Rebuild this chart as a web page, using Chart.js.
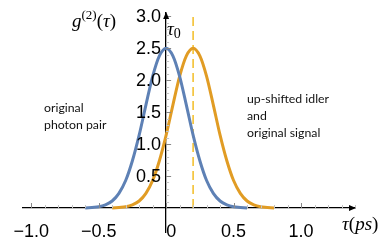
<!DOCTYPE html>
<html>
<head>
<meta charset="utf-8">
<script src="https://cdn.jsdelivr.net/npm/chart.js@4.4.1/dist/chart.umd.min.js"></script>
<style>
  html, body { margin: 0; padding: 0; background: #fff; }
  #wrap { width: 381px; height: 243px; position: relative; }
</style>
</head>
<body>
<div id="wrap"><canvas id="myChart"></canvas></div>
<script>
// tau in ps, every 0.05
let tau = [-0.6, -0.55, -0.5, -0.45, -0.4, -0.35, -0.3, -0.25, -0.2, -0.15, -0.1, -0.05, 0,
           0.05, 0.1, 0.15, 0.2, 0.25, 0.3, 0.35, 0.4, 0.45, 0.5, 0.55, 0.6, 0.65, 0.7, 0.75, 0.8];
// original photon pair
let pairG2 = [0.0, 0.01, 0.02, 0.05, 0.11, 0.23, 0.43, 0.74, 1.14, 1.61, 2.06, 2.38, 2.5,
              2.38, 2.06, 1.61, 1.14, 0.74, 0.43, 0.23, 0.11, 0.05, 0.02, 0.01, 0.0, null, null, null, null];
// up-shifted idler and original signal
let shiftedG2 = [null, null, null, null, 0.0, 0.01, 0.02, 0.05, 0.11, 0.23, 0.43, 0.74, 1.14,
                 1.61, 2.06, 2.38, 2.5, 2.38, 2.06, 1.61, 1.14, 0.74, 0.43, 0.23, 0.11, 0.05, 0.02, 0.01, 0.0];
let tau0 = [0.2];
let tau0Line = [0, 3.05];
let yTickLabels = ['0.5', '1.0', '1.5', '2.0', '2.5', '3.0'];

let blue = '#5e81b5';
let orange = '#e19c24';

function pts(ys) {
    let out = [];
    for (let i = 0; i < tau.length; i++) {
        out.push({x: tau[i], y: ys[i]});
    }
    return out;
}

const decor = {
    id: 'decor',
    afterDraw(chart) {
        const ctx = chart.ctx;
        const area = chart.chartArea;
        const xs = chart.scales.x;
        const ys = chart.scales.y;
        const x0 = xs.getPixelForValue(0);
        const y0 = ys.getPixelForValue(0);
        ctx.save();

        // ticks point into the plot, like the original
        ctx.lineWidth = 1;
        for (let t of xs.ticks) {
            let major = Math.round(t.value * 10) % 5 === 0;
            let px = Math.round(xs.getPixelForValue(t.value)) + 0.5;
            ctx.strokeStyle = major ? '#888' : '#c4c4c4';
            ctx.beginPath();
            ctx.moveTo(px, y0);
            ctx.lineTo(px, y0 - (major ? 5 : 3));
            ctx.stroke();
        }
        for (let t of ys.ticks) {
            if (t.value < 0.05) continue;
            let major = Math.round(t.value * 10) % 5 === 0;
            let py = Math.round(ys.getPixelForValue(t.value)) + 0.5;
            ctx.strokeStyle = major ? '#888' : '#c4c4c4';
            ctx.beginPath();
            ctx.moveTo(x0, py);
            ctx.lineTo(x0 + (major ? 5 : 3), py);
            ctx.stroke();
        }

        ctx.fillStyle = '#000';
        // arrow heads
        ctx.beginPath();
        ctx.moveTo(area.right + 1, y0);
        ctx.lineTo(area.right - 6, y0 - 3);
        ctx.lineTo(area.right - 6, y0 + 3);
        ctx.closePath();
        ctx.fill();
        ctx.beginPath();
        ctx.moveTo(x0, area.top - 1);
        ctx.lineTo(x0 - 3, area.top + 6);
        ctx.lineTo(x0 + 3, area.top + 6);
        ctx.closePath();
        ctx.fill();

        // y tick labels, left of the axis
        ctx.font = '18px "Liberation Sans"';
        ctx.textAlign = 'right';
        ctx.textBaseline = 'middle';
        for (let lab of yTickLabels) {
            ctx.fillText(lab, x0 - 5, ys.getPixelForValue(Number(lab)) + 1);
        }

        function run(x, y, parts) {
            for (let p of parts) {
                ctx.font = p[1];
                ctx.fillText(p[0], x, y + (p[2] || 0));
                x += ctx.measureText(p[0]).width;
            }
        }
        ctx.textBaseline = 'alphabetic';
        ctx.textAlign = 'left';
        const it = 'italic 19px "Liberation Serif"';
        const rm = '19px "Liberation Serif"';
        const sm = '13px "Liberation Serif"';
        run(72, 27, [['g', it], ['(2)', sm, -8], ['(', rm], ['\u03c4', it], [')', rm]]);
        run(167, 35, [['\u03c4', it], ['0', '14px "Liberation Serif"', 3]]);
        run(342, 230, [['\u03c4', it], ['(', rm], ['ps', it], [')', rm]]);

        ctx.font = '12.3px Lato';
        ctx.fillStyle = '#111';
        ctx.fillText('original', 44, 112);
        ctx.fillText('photon pair', 44, 129);
        ctx.fillText('up-shifted idler', 247, 103);
        ctx.fillText('and', 247, 120);
        ctx.fillText('original signal', 247, 137);
        ctx.restore();
    }
};

new Chart('myChart', {
    type: 'scatter',
    data: {
        datasets: [{
            data: pts(pairG2),
            showLine: true,
            borderColor: blue,
            borderWidth: 3,
            pointRadius: 0,
            cubicInterpolationMode: 'monotone'
        }, {
            data: pts(shiftedG2),
            showLine: true,
            borderColor: orange,
            borderWidth: 3,
            pointRadius: 0,
            cubicInterpolationMode: 'monotone'
        }, {
            data: tau0Line.map(v => ({x: tau0[0], y: v})),
            showLine: true,
            borderColor: '#f3c132',
            borderWidth: 1.6,
            borderDash: [9, 5],
            pointRadius: 0
        }]
    },
    options: {
        responsive: true,
        maintainAspectRatio: false,
        animation: false,
        layout: { padding: {left: 17, right: 26, top: 13, bottom: 11} },
        plugins: {
            legend: {display: false},
            tooltip: {enabled: false}
        },
        scales: {
            x: {
                type: 'linear',
                min: -1.066,
                max: 1.4,
                position: {y: 0},
                afterFit: s => { s.height = 0; },
                border: {color: '#000', width: 1.3},
                grid: {
                    drawOnChartArea: false,
                    drawTicks: false
                },
                ticks: {
                    stepSize: 0.1,
                    includeBounds: false,
                    autoSkip: false,
                    maxRotation: 0,
                    padding: 13,
                    color: '#000',
                    font: {family: '"Liberation Sans"', size: 18},
                    callback: v => {
                        let r = Math.round(v * 10);
                        if (r % 5 !== 0 || r > 10) return '';
                        if (r === 0) return '  0';
                        return (r < 0 ? '\u2212' : '') + (Math.abs(r) / 10).toFixed(1);
                    }
                }
            },
            y: {
                type: 'linear',
                min: -0.375,
                max: 3.05,
                position: {x: 0},
                afterFit: s => { s.width = 0; },
                border: {color: '#000', width: 1.3},
                grid: {
                    drawOnChartArea: false,
                    drawTicks: false
                },
                ticks: {
                    stepSize: 0.1,
                    includeBounds: false,
                    autoSkip: false,
                    callback: () => ''
                }
            }
        }
    },
    plugins: [decor]
});
</script>
</body>
</html>
